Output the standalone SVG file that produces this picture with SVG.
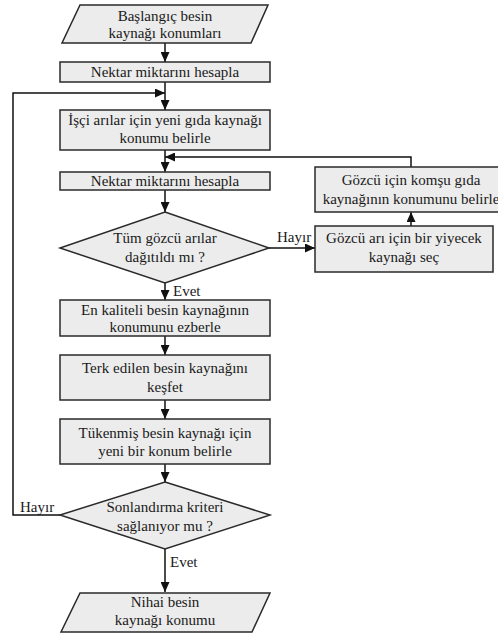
<svg xmlns="http://www.w3.org/2000/svg" width="498" height="634" viewBox="0 0 498 634">
<style>
.n{fill:#ececec;stroke:#2a2a2a;stroke-width:1.5}
.t{font-family:"Liberation Serif","Times New Roman",serif;font-size:15px;fill:#1a1a1a;text-anchor:middle}
.l{font-family:"Liberation Serif","Times New Roman",serif;font-size:15px;fill:#1a1a1a}
.c{fill:none;stroke:#111;stroke-width:1.5}
</style>
<defs>
<marker id="a" markerWidth="10" markerHeight="9" refX="10" refY="4.5" orient="auto" markerUnits="userSpaceOnUse">
<path d="M0,0 L10,4.5 L0,9 z" fill="#111"/>
</marker>
</defs>
<rect width="498" height="634" fill="#fff"/>
<g id="connectors">
<line class="c" x1="165" y1="43" x2="165" y2="62" marker-end="url(#a)"/>
<line class="c" x1="165" y1="82" x2="165" y2="110" marker-end="url(#a)"/>
<polyline class="c" points="60,515 13,515 13,93 165,93" marker-end="url(#a)"/>
<line class="c" x1="165" y1="150" x2="165" y2="172" marker-end="url(#a)"/>
<polyline class="c" points="411,167 411,157 165,157" marker-end="url(#a)"/>
<line class="c" x1="165" y1="190" x2="165" y2="212" marker-end="url(#a)"/>
<line class="c" x1="269" y1="248" x2="315" y2="248" marker-end="url(#a)"/>
<line class="c" x1="411" y1="226" x2="411" y2="212" marker-end="url(#a)"/>
<line class="c" x1="165" y1="283" x2="165" y2="300" marker-end="url(#a)"/>
<line class="c" x1="165" y1="336" x2="165" y2="355" marker-end="url(#a)"/>
<line class="c" x1="165" y1="400" x2="165" y2="419" marker-end="url(#a)"/>
<line class="c" x1="165" y1="464" x2="165" y2="482" marker-end="url(#a)"/>
<line class="c" x1="165" y1="549" x2="165" y2="592" marker-end="url(#a)"/>
<text class="l" x="277" y="242">Hayır</text>
<text class="l" x="173" y="296">Evet</text>
<text class="l" x="20" y="512">Hayır</text>
<text class="l" x="170" y="567">Evet</text>
</g>
<g id="start">
<polygon class="n" points="80,5 268,5 251,43 62,43"/>
<text class="t" x="165" y="21">Başlangıç besin</text>
<text class="t" x="165" y="38">kaynağı konumları</text>
</g>
<g id="nektar1">
<rect class="n" x="60" y="62" width="210" height="20"/>
<text class="t" x="165" y="77">Nektar miktarını hesapla</text>
</g>
<g id="isci">
<rect class="n" x="60" y="110" width="210" height="40"/>
<text class="t" x="165" y="125">İşçi arılar için yeni gıda kaynağı</text>
<text class="t" x="165" y="143">konumu belirle</text>
</g>
<g id="nektar2">
<rect class="n" x="60" y="172" width="210" height="18"/>
<text class="t" x="165" y="186">Nektar miktarını hesapla</text>
</g>
<g id="decision1">
<polygon class="n" points="165,212 269,248 165,283 60,248"/>
<text class="t" x="165" y="243">Tüm gözcü arılar</text>
<text class="t" x="165" y="262">dağıtıldı mı ?</text>
</g>
<g id="komsu">
<rect class="n" x="315" y="167" width="190" height="45"/>
<text class="t" x="411" y="185">Gözcü için komşu gıda</text>
<text class="t" x="411" y="204">kaynağının konumunu belirle</text>
</g>
<g id="sec">
<rect class="n" x="315" y="226" width="178" height="46"/>
<text class="t" x="404" y="243">Gözcü arı için bir yiyecek</text>
<text class="t" x="404" y="262">kaynağı seç</text>
</g>
<g id="ezberle">
<rect class="n" x="60" y="300" width="210" height="36"/>
<text class="t" x="165" y="315">En kaliteli besin kaynağının</text>
<text class="t" x="165" y="332">konumunu ezberle</text>
</g>
<g id="kesfet">
<rect class="n" x="60" y="355" width="210" height="45"/>
<text class="t" x="165" y="373">Terk edilen besin kaynağını</text>
<text class="t" x="165" y="392">keşfet</text>
</g>
<g id="tukenmis">
<rect class="n" x="60" y="419" width="210" height="45"/>
<text class="t" x="165" y="438">Tükenmiş besin kaynağı için</text>
<text class="t" x="165" y="456">yeni bir konum belirle</text>
</g>
<g id="decision2">
<polygon class="n" points="165,482 270,515 165,549 60,515"/>
<text class="t" x="165" y="512">Sonlandırma kriteri</text>
<text class="t" x="165" y="531">sağlanıyor mu ?</text>
</g>
<g id="end">
<polygon class="n" points="80,593 270,593 252,632 61,632"/>
<text class="t" x="165" y="607">Nihai besin</text>
<text class="t" x="165" y="625">kaynağı konumu</text>
</g>
</svg>
